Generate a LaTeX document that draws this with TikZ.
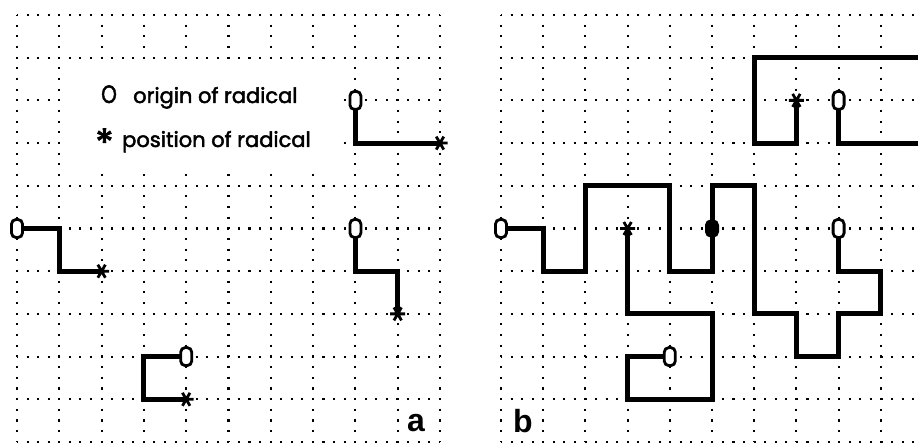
\documentclass[tikz,border=0pt]{standalone}
\usepackage{fontspec}
\setmainfont{Liberation Sans}
\newfontfamily\legendfont[FakeBold=2.2]{Poppins}
\begin{document}
\begin{tikzpicture}[
  gridh/.style={line width=2.1pt, dash pattern=on 2.1pt off 8.47pt, dash phase=1.05pt},
  gridv/.style={line width=2.1pt, dash pattern=on 2.1pt off 8.57pt, dash phase=1.05pt},
  walk/.style={line width=5pt, line join=miter},
  originmark/.style={draw, line width=2.8pt, rounded corners=4.5pt, fill=white},
  legendtext/.style={font=\legendfont\fontsize{21}{24}\selectfont, inner sep=0pt, anchor=base west},
  panellabel/.style={font=\fontsize{32}{36}\selectfont\bfseries, inner sep=0pt},
  orig/.pic={\draw[originmark] (-5.5pt,-9pt) rectangle (5.5pt,9pt);},
  origfilled/.pic={\fill[rounded corners=5.5pt] (-7pt,-9pt) rectangle (7pt,9pt);},
  star/.pic={\draw[line width=2.8pt] (-7.5pt,0pt) -- (7.5pt,0pt) (60:7.5pt) -- (240:7.5pt) (120:7.5pt) -- (300:7.5pt);}
]
\useasboundingbox (0pt,0pt) rectangle (918pt,-443pt);
\clip (0pt,0pt) rectangle (918pt,-443pt);

% ---------------- panel a ----------------
\begin{scope}[shift={(17pt,-15pt)}, x=42.3pt, y=-42.7pt]
  \foreach \j in {0,...,10} \draw[gridh] (0,\j) -- (10,\j);
  \foreach \i in {0,...,10} \draw[gridv] (\i,0) -- (\i,10);
  \fill[white] (1.22,1.1) rectangle (7.55,3.55);
  % walks
  \draw[walk] (8,2) -- (8,3) -- (10,3);
  \pic at (8,2) {orig}; \pic at (10,3) {star};
  \draw[walk] (0,5) -- (1,5) -- (1,6) -- (2,6);
  \pic at (0,5) {orig}; \pic at (2,6) {star};
  \draw[walk] (8,5) -- (8,6) -- (9,6) -- (9,7);
  \pic at (8,5) {orig}; \pic at (9,7) {star};
  \draw[walk] (4,8) -- (3,8) -- (3,9) -- (4,9);
  \pic at (4,8) {orig}; \pic at (4,9) {star};
\end{scope}
\node[legendtext] (legO) at (101pt,-103pt) {\makebox[32pt][l]{\scalebox{0.95}[1.2]{O}}origin of radical};
\node[legendtext] (legS) at (95pt,-147pt) {\makebox[27pt][l]{\raisebox{-0.45em}{\fontsize{38}{38}\selectfont *}}position of radical};
\node[panellabel] (labA) at (416pt,-423pt) {a};

% ---------------- panel b ----------------
\begin{scope}[shift={(501pt,-15pt)}, x=42.2pt, y=-42.7pt]
  \foreach \j in {0,...,10} \draw[gridh] (0,\j) -- (10,\j);
  \foreach \i in {0,...,10} \draw[gridv] (\i,0) -- (\i,10);
  % top walk (runs off the right edge)
  \draw[walk] (8,2) -- (8,3) -- (10,3) -- (10,1) -- (6,1) -- (6,3) -- (7,3) -- (7,2);
  \pic at (8,2) {orig}; \pic at (7,2) {star};
  % long walks meeting at (5,5)
  \draw[walk] (0,5) -- (1,5) -- (1,6) -- (2,6) -- (2,4) -- (4,4) -- (4,6) -- (5,6) -- (5,4) -- (6,4)
     -- (6,7) -- (7,7) -- (7,8) -- (8,8) -- (8,7) -- (9,7) -- (9,6) -- (8,6) -- (8,5);
  \pic at (0,5) {orig}; \pic at (8,5) {orig}; \pic at (5,5) {origfilled};
  % spiral walk
  \draw[walk] (4,8) -- (3,8) -- (3,9) -- (5,9) -- (5,7) -- (3,7) -- (3,5);
  \pic at (4,8) {orig}; \pic at (3,5) {star};
\end{scope}
\node[panellabel] (labB) at (523pt,-421pt) {b};
\end{tikzpicture}
\end{document}
